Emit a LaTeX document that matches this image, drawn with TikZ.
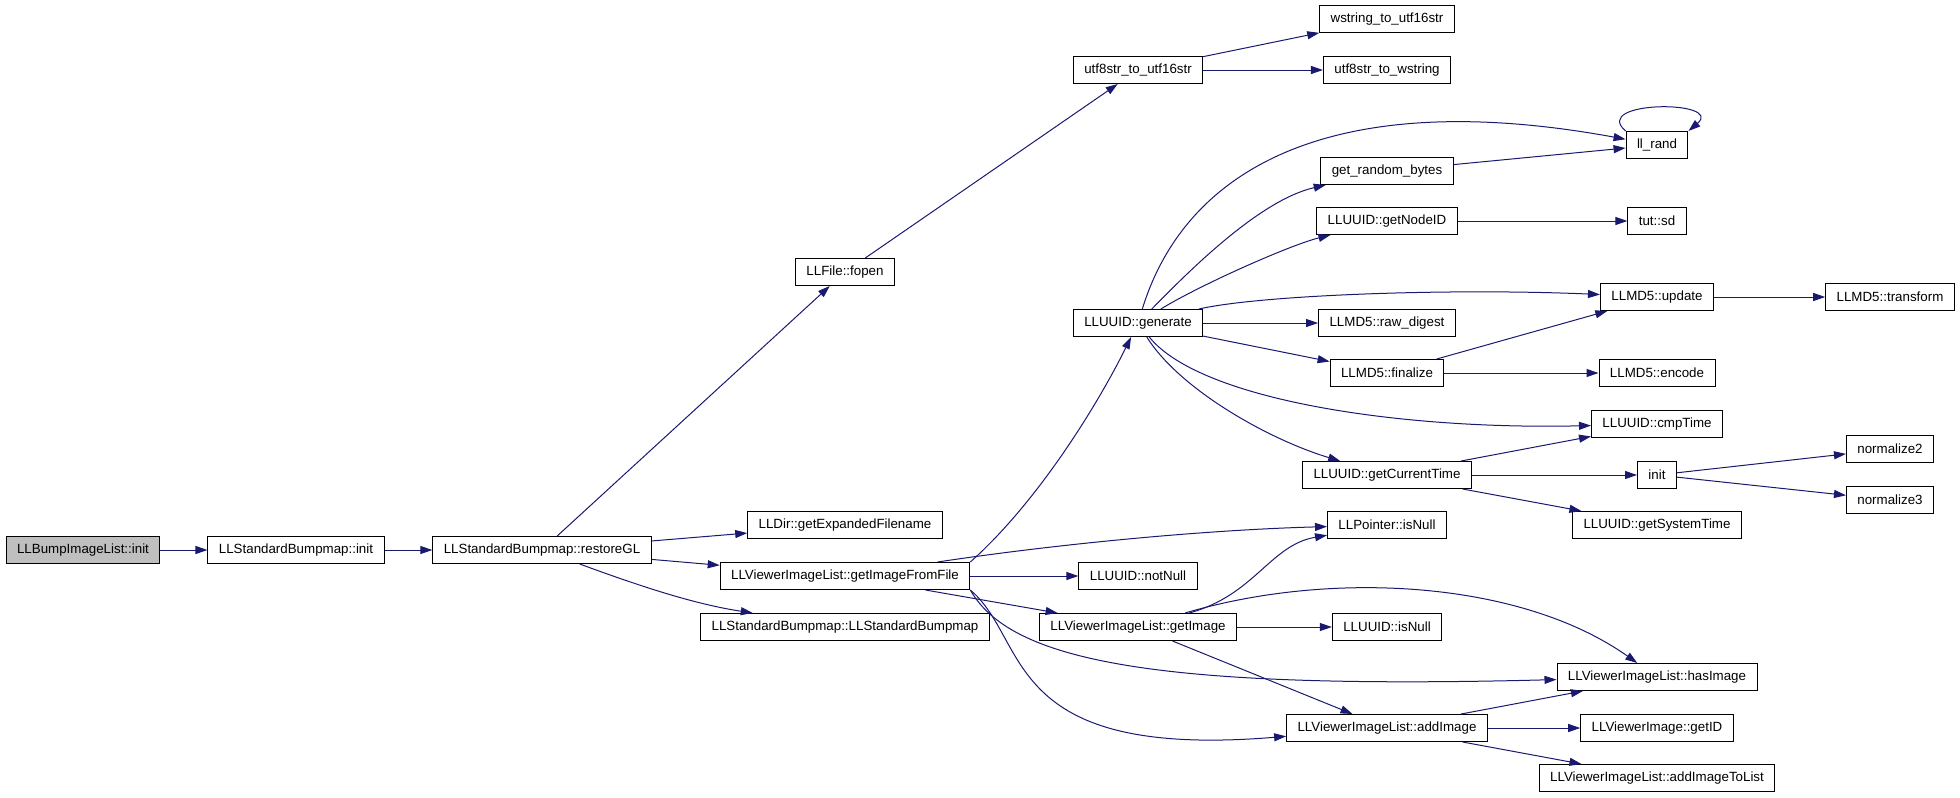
\documentclass[tikz,border=0pt]{standalone}
\usepackage{fontspec}
\setmainfont{Liberation Sans}
\usetikzlibrary{arrows.meta}
\definecolor{callblue}{HTML}{191970}
\tikzset{>={Triangle[length=9pt,width=6pt]}}
\tikzset{fn/.style={draw,line width=0.75pt,minimum height=20.25pt,inner xsep=8.2pt,inner ysep=0pt,
                    font=\fontsize{10}{12}\selectfont},
         call/.style={->,callblue,line width=0.75pt}}

\begin{document}
\begin{tikzpicture}[x=0.75pt,y=-0.75pt]
  \useasboundingbox (0,0) rectangle (1960,797);
  \pgfmathsetmacro{\xa}{83}   % caller
  \pgfmathsetmacro{\xb}{296}
  \pgfmathsetmacro{\xc}{542}
  \pgfmathsetmacro{\xd}{845}
  \pgfmathsetmacro{\xe}{1138}
  \pgfmathsetmacro{\xf}{1387}
  \pgfmathsetmacro{\xg}{1657}
  \pgfmathsetmacro{\xh}{1890}
  % Call chain
  \node[fn,fill=black!25] (root) at (\xa,550) {LLBumpImageList::init};
  \node[fn] (sbinit) at (\xb,550) {LLStandardBumpmap::init};
  \node[fn] (rgl) at (\xc,550) {LLStandardBumpmap::restoreGL};
  % Fourth column
  \node[fn] (fopen) at (\xd,272) {LLFile::fopen};
  \node[fn] (expfn) at (\xd,525) {LLDir::getExpandedFilename};
  \node[fn] (gifl) at (\xd,576) {LLViewerImageList::getImageFromFile};
  \node[fn] (sbctor) at (\xd,627) {LLStandardBumpmap::LLStandardBumpmap};
  % Fifth column
  \node[fn] (u8u16) at (\xe,70) {utf8str\_to\_utf16str};
  \node[fn] (gen) at (\xe,323) {LLUUID::generate};
  \node[fn] (notnull) at (\xe,576) {LLUUID::notNull};
  \node[fn] (getimg) at (\xe,627) {LLViewerImageList::getImage};
  % Sixth column
  \node[fn] (ws16) at (\xf,19) {wstring\_to\_utf16str};
  \node[fn] (u8ws) at (\xf,70) {utf8str\_to\_wstring};
  \node[fn] (rbytes) at (\xf,171) {get\_random\_bytes};
  \node[fn] (nodeid) at (\xf,221) {LLUUID::getNodeID};
  \node[fn] (rawdig) at (\xf,323) {LLMD5::raw\_digest};
  \node[fn] (final) at (\xf,373) {LLMD5::finalize};
  \node[fn] (curtime) at (\xf,475) {LLUUID::getCurrentTime};
  \node[fn] (ptrnull) at (\xf,525) {LLPointer::isNull};
  \node[fn] (isnull) at (\xf,627) {LLUUID::isNull};
  \node[fn] (addimg) at (\xf,728) {LLViewerImageList::addImage};
  % Seventh column
  \node[fn] (llrand) at (\xg,145) {ll\_rand};
  \node[fn] (tutsd) at (\xg,221) {tut::sd};
  \node[fn] (update) at (\xg,297) {LLMD5::update};
  \node[fn] (encode) at (\xg,373) {LLMD5::encode};
  \node[fn] (cmptime) at (\xg,424) {LLUUID::cmpTime};
  \node[fn] (init) at (\xg,475) {init};
  \node[fn] (systime) at (\xg,525) {LLUUID::getSystemTime};
  \node[fn] (hasimg) at (\xg,677) {LLViewerImageList::hasImage};
  \node[fn] (getid) at (\xg,728) {LLViewerImage::getID};
  \node[fn] (addlist) at (\xg,778) {LLViewerImageList::addImageToList};
  % Last column
  \node[fn] (transform) at (\xh,297) {LLMD5::transform};
  \node[fn] (norm2) at (\xh,449) {normalize2};
  \node[fn] (norm3) at (\xh,500) {normalize3};
  % Calls of the chain
  \draw[call] (root) -- (sbinit);
  \draw[call] (sbinit) -- (rgl);
  \draw[call] (rgl) -- (fopen);
  \draw[call] (rgl) -- (expfn);
  \draw[call] (rgl) -- (gifl);
  \draw[call] (rgl) .. controls (650,590) and (700,605) .. (sbctor);
  % fopen
  \draw[call] (fopen) -- (u8u16);
  \draw[call] (u8u16) -- (ws16);
  \draw[call] (u8u16) -- (u8ws);
  % getImageFromFile
  \draw[call] (gifl.north east) .. controls (1040,500) and (1100,400) .. (gen);
  \draw[call] (gifl) .. controls (1050,545) and (1200,530) .. (ptrnull);
  \draw[call] (gifl) -- (notnull);
  \draw[call] (gifl) -- (getimg);
  \draw[call] (gifl.south east) .. controls (1010,660) and (1150,690) .. (hasimg);
  \draw[call] (gifl.south east) .. controls (1030,640) and (1000,760) .. (addimg);
  % generate
  \draw[call] (gen) .. controls (1185,170) and (1330,85) .. (llrand);
  \draw[call] (gen) .. controls (1190,270) and (1260,200) .. (rbytes);
  \draw[call] (gen) .. controls (1200,285) and (1290,245) .. (nodeid);
  \draw[call] (gen) .. controls (1260,295) and (1450,288) .. (update);
  \draw[call] (gen) -- (rawdig);
  \draw[call] (gen) -- (final);
  \draw[call] (gen) .. controls (1200,400) and (1400,430) .. (cmptime);
  \draw[call] (gen) .. controls (1180,390) and (1270,440) .. (curtime);
  \draw[call] (rbytes) -- (llrand);
  \draw[call] (llrand.north west) .. controls (1590,100) and (1725,100) .. (llrand.north east);
  \draw[call] (nodeid) -- (tutsd);
  % MD5
  \draw[call] (update) -- (transform);
  \draw[call] (final) -- (update);
  \draw[call] (final) -- (encode);
  % time
  \draw[call] (curtime) -- (cmptime);
  \draw[call] (curtime) -- (init);
  \draw[call] (curtime) -- (systime);
  \draw[call] (init) -- (norm2);
  \draw[call] (init) -- (norm3);
  % getImage
  \draw[call] (getimg) .. controls (1255,595) and (1270,545) .. (ptrnull);
  \draw[call] (getimg) .. controls (1330,570) and (1520,580) .. (hasimg);
  \draw[call] (getimg) -- (isnull);
  \draw[call] (getimg) -- (addimg);
  % addImage
  \draw[call] (addimg) -- (hasimg);
  \draw[call] (addimg) -- (getid);
  \draw[call] (addimg) -- (addlist);
\end{tikzpicture}
\end{document}
